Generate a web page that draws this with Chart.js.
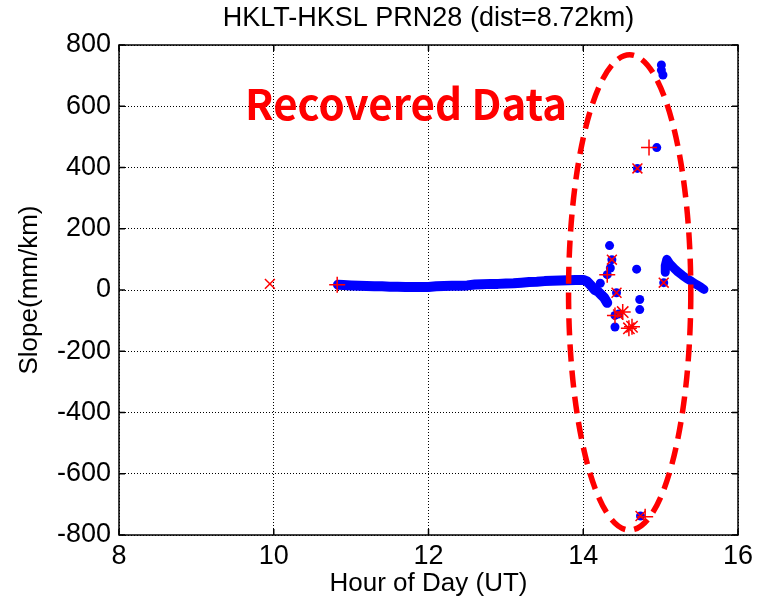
<!DOCTYPE html>
<html>
<head>
<meta charset="utf-8">
<script src="https://cdn.jsdelivr.net/npm/chart.js@4.4.0/dist/chart.umd.min.js"></script>
<style>
  html, body { margin: 0; padding: 0; background: #fff; }
</style>
</head>
<body>
<canvas id="slopeChart" width="763" height="604"></canvas>
<script>
// x: hour of day (UT), y: slope (mm/km)
const xTicks = [8, 10, 12, 14, 16];
const yTicks = [-800, -600, -400, -200, 0, 200, 400, 600, 800];

// dense blue band before the gap
const bandHours = [10.83, 10.9, 11.0, 11.1, 11.2, 11.3, 11.4, 11.5, 11.6, 11.7, 11.8, 11.9, 12.0, 12.1, 12.2, 12.3, 12.4, 12.5, 12.6, 12.7, 12.8, 12.9, 13.0, 13.1, 13.2, 13.3, 13.4, 13.5, 13.6, 13.7, 13.8, 13.9, 14.0, 14.05, 14.1, 14.15, 14.19, 14.23, 14.27, 14.31];
const bandSlope = [17, 16, 15, 14, 13, 12, 12, 11, 11, 10, 10, 10, 10, 12, 13, 14, 14, 15, 18, 19, 20, 20, 21, 22, 24, 26, 27, 29, 30, 31, 32, 33, 33, 28, 15, 0, -5, -15, -25, -42];

// blue band after the gap
const tailHours = [15.06, 15.06, 15.08, 15.12, 15.17, 15.22, 15.28, 15.34, 15.4, 15.46, 15.52, 15.56];
const tailSlope = [58, 80, 100, 85, 72, 60, 48, 37, 28, 18, 9, 2];

// isolated blue dots
const dotHours = [14.22, 14.34, 14.37, 14.35, 14.31, 14.69, 14.43, 14.73, 14.73, 14.41, 14.46, 14.41, 15.04, 15.01, 15.01, 15.03, 14.95, 14.70, 14.74];
const dotSlope = [22, 145, 99, 72, 50, 68, -9, -31, -64, -83, -78, -121, 24, 735, 718, 702, 465, 397, -738];

// recovered data markers
const plusHours = [10.82, 14.31, 14.41, 14.85, 14.80];
const plusSlope = [17, 50, -83, 465, -740];
const crossHours = [9.95, 14.37, 14.43, 14.45, 14.70, 15.04, 14.74];
const crossSlope = [20, 99, -9, -80, 397, 24, -738];
const starHours = [14.51, 14.59, 14.63];
const starSlope = [-72, -125, -120];

// dashed ellipse around the recovered region (data units)
const ringCenter = [14.6, -8];
const ringRadius = [0.79, 776];

const titleText = 'HKLT-HKSL PRN28 (dist=8.72km)';
const noteText = 'Recovered Data';
const noteAt = [11.71, 556];

const FONT = "'Liberation Sans', Arial, sans-serif";

const toPoints = (xs, ys) => xs.map((x, i) => ({ x: x, y: ys[i] }));

// full box, inward ticks, ellipse, note and title
const decorPlugin = {
  id: 'decor',
  afterDatasetsDraw(chart) {
    const { ctx, chartArea: a, scales: { x, y } } = chart;
    ctx.save();

    // dashed ellipse
    const cx = x.getPixelForValue(ringCenter[0]);
    const cy = y.getPixelForValue(ringCenter[1]);
    const rx = x.getPixelForValue(ringCenter[0] + ringRadius[0]) - cx;
    const ry = cy - y.getPixelForValue(ringCenter[1] + ringRadius[1]);
    ctx.strokeStyle = '#ff0000';
    ctx.lineWidth = 5.5;
    ctx.setLineDash([17, 9]);
    ctx.beginPath();
    ctx.ellipse(cx, cy, rx, ry, 0, 0, Math.PI * 2);
    ctx.stroke();
    ctx.setLineDash([]);

    // note
    ctx.fillStyle = '#ff0000';
    ctx.font = "bold 42px 'Noto Sans CJK KR', 'Noto Sans', sans-serif";
    ctx.textAlign = 'center';
    ctx.textBaseline = 'alphabetic';
    ctx.fillText(noteText, x.getPixelForValue(noteAt[0]), y.getPixelForValue(noteAt[1]));

    // title, centred over the plot area
    ctx.fillStyle = '#000';
    ctx.font = '27px ' + FONT;
    ctx.textBaseline = 'middle';
    ctx.fillText(titleText, (a.left + a.right) / 2, 19);

    // box + ticks
    ctx.strokeStyle = '#000';
    ctx.lineWidth = 1.5;
    ctx.strokeRect(a.left, a.top, a.right - a.left, a.bottom - a.top);
    ctx.beginPath();
    xTicks.forEach((v) => {
      const px = x.getPixelForValue(v);
      ctx.moveTo(px, a.bottom); ctx.lineTo(px, a.bottom - 6);
      ctx.moveTo(px, a.top); ctx.lineTo(px, a.top + 6);
    });
    yTicks.forEach((v) => {
      const py = y.getPixelForValue(v);
      ctx.moveTo(a.left, py); ctx.lineTo(a.left + 6, py);
      ctx.moveTo(a.right, py); ctx.lineTo(a.right - 6, py);
    });
    ctx.stroke();
    ctx.restore();
  }
};

const ctx = document.getElementById('slopeChart').getContext('2d');
new Chart(ctx, {
  type: 'scatter',
  data: {
    datasets: [
      {
        label: 'band',
        data: toPoints(bandHours, bandSlope),
        order: 10,
        showLine: true,
        borderColor: '#0000ff',
        borderWidth: 10,
        borderCapStyle: 'round',
        borderJoinStyle: 'round',
        pointRadius: 0,
      },
      {
        label: 'tail',
        data: toPoints(tailHours, tailSlope),
        order: 9,
        showLine: true,
        borderColor: '#0000ff',
        borderWidth: 9,
        borderCapStyle: 'round',
        borderJoinStyle: 'round',
        pointRadius: 0,
      },
      {
        label: 'dots',
        data: toPoints(dotHours, dotSlope),
        order: 8,
        pointStyle: 'circle',
        pointRadius: 4.5,
        backgroundColor: '#0000ff',
        borderWidth: 0,
      },
      {
        label: 'plus',
        data: toPoints(plusHours, plusSlope),
        order: 3,
        pointStyle: 'cross',
        pointRadius: 8,
        borderColor: '#ff0000',
        borderWidth: 1.5,
      },
      {
        label: 'cross',
        data: toPoints(crossHours, crossSlope),
        order: 2,
        pointStyle: 'crossRot',
        pointRadius: 7,
        borderColor: '#ff0000',
        borderWidth: 1.5,
      },
      {
        label: 'star',
        data: toPoints(starHours, starSlope),
        order: 1,
        pointStyle: 'star',
        pointRadius: 8,
        borderColor: '#ff0000',
        borderWidth: 1.5,
      },
    ],
  },
  options: {
    responsive: false,
    animation: false,
    devicePixelRatio: 1,
    layout: { padding: { left: 0, right: 25, top: 45, bottom: 0 } },
    plugins: {
      legend: { display: false },
      tooltip: { enabled: false },
      title: { display: false },
    },
    scales: {
      x: {
        type: 'linear',
        min: 8,
        max: 16,
        afterBuildTicks: (scale) => { scale.ticks = xTicks.map((v) => ({ value: v })); },
        afterFit: (scale) => { scale.height = 69; },
        ticks: { color: '#000', font: { family: FONT, size: 27 }, padding: 5, maxRotation: 0 },
        grid: { color: '#000', lineWidth: 1, drawTicks: false },
        border: { display: false, dash: [1, 2] },
        title: {
          display: true,
          text: 'Hour of Day (UT)',
          color: '#000',
          font: { family: FONT, size: 26, lineHeight: 1.2 },
          padding: { top: 0, bottom: 5 },
        },
      },
      y: {
        type: 'linear',
        min: -800,
        max: 800,
        afterBuildTicks: (scale) => { scale.ticks = yTicks.map((v) => ({ value: v })); },
        afterFit: (scale) => { scale.width = 119; },
        ticks: { color: '#000', font: { family: FONT, size: 27 }, padding: 8 },
        grid: { color: '#000', lineWidth: 1, drawTicks: false },
        border: { display: false, dash: [1, 2] },
        title: {
          display: true,
          text: 'Slope(mm/km)',
          color: '#000',
          font: { family: FONT, size: 26, lineHeight: 1.2 },
          padding: { top: 14, bottom: 0 },
        },
      },
    },
  },
  plugins: [decorPlugin],
});
</script>
</body>
</html>
